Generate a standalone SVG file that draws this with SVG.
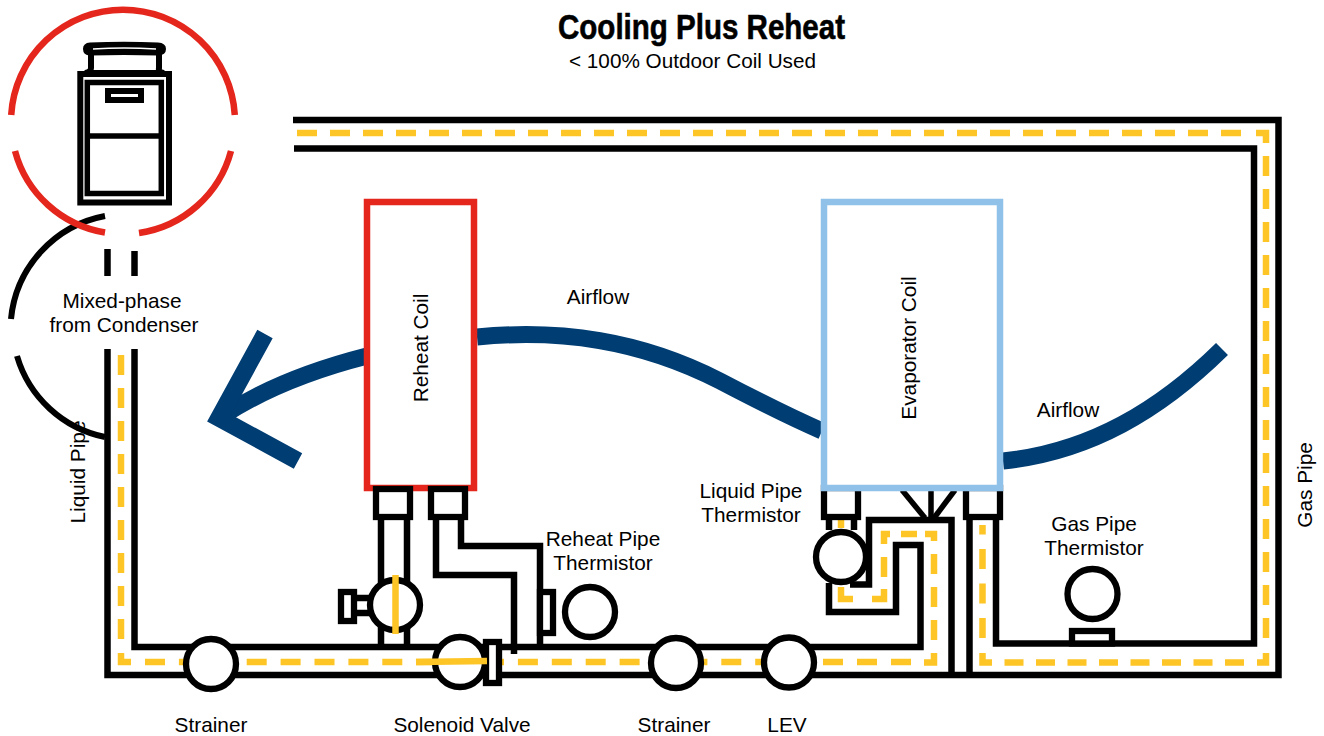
<svg xmlns="http://www.w3.org/2000/svg" width="1324" height="736" viewBox="0 0 1324 736">
<style>
text{font-family:"Liberation Sans",Arial,sans-serif;font-size:20.8px;fill:#000;text-anchor:middle}
.p{fill:none;stroke:#000;stroke-width:6.5;stroke-linejoin:miter;stroke-linecap:butt}
.n{fill:#fff;stroke:#000;stroke-width:6.3}
.y{fill:none;stroke:#fdc526;stroke-width:6.5}
.d{stroke-dasharray:20 13}
.a{fill:none;stroke:#003d73;stroke-width:17}
</style>
<rect width="1324" height="736" fill="#fff"/>
<g id="airflow">
<path class="a" d="M224 415C270 385 320 368 367 356"/>
<path class="a" style="stroke-width:17.500;stroke-miterlimit:10" d="M265 334L219 418L298 461"/>
<path class="a" d="M477 337C560 329 640 340 720 381C760 402 790 417 822 431"/>
<path class="a" d="M1003 461C1090 452 1160 410 1222 349"/>
</g>
<g id="connectors">
<path class="y d" d="M297 133H1254"/>
<path class="y" d="M1256 133H1266V143"/>
<path class="y d" d="M1266 156V639"/>
<path class="y" d="M1257 662.5H1266V653"/>
<path class="y" style="stroke-dasharray:19 12.5" d="M1244 662.5H1004"/>
<path class="y" d="M992 662.5H982.5V653"/>
<path class="y" style="stroke-dasharray:20 14.5" d="M982.5 638V525"/>
<path class="y" style="stroke-dasharray:20 13" d="M121 355V639"/>
<path class="y" d="M121 653V662H131"/>
<path class="y" style="stroke-dasharray:20 13.9" d="M145 662H810"/>
<path class="y" style="stroke-dasharray:20 14" d="M823 662H911"/>
<path class="y" d="M924 662.5H934V653"/>
<path class="y d" d="M934 640V534H925"/>
<path class="y" d="M917 534H901"/>
<path class="y" d="M890 534H884V544"/>
<path class="y" d="M884 557V577"/>
<path class="y" d="M884 589V599H872"/>
<path class="y" d="M853 599H841V587"/>
<path class="y" d="M841 520V528"/>
<path class="p" d="M107.5 249V276"/>
<path class="p" d="M134.5 251V276"/>
<path class="p" d="M107.5 349V675H1278.5V120H293"/>
<path class="p" d="M134.5 349V647H920.5V545H896V612H829V583"/>
<path class="p" d="M294 148.5H1254V643.5H996V517"/>
<path class="p" d="M969.5 517V675"/>
<path class="p" d="M951.5 675V520H869V584.5H850"/>
<path class="p" d="M829 517V530"/>
<path class="p" d="M854 517V530"/>
<path class="p" d="M381 517V647"/>
<path class="p" d="M407 517V647"/>
<path class="p" d="M357 598H372"/>
<path class="p" d="M357 613H372"/>
<path class="p" d="M436 517V575H514V654"/>
<path class="p" d="M461 517V546H540V647"/>
<path class="p" style="stroke-width:5.500" d="M902 490L925 518"/>
<path class="p" style="stroke-width:5.500" d="M955 490L934 518"/>
<path class="p" style="stroke-width:5.500" d="M931 490V518"/>
<path class="p" style="stroke-width:6" d="M105 216A116 116 0 0 0 11 319"/>
<path class="p" style="stroke-width:6" d="M17 356A116 116 0 0 0 105 437"/>
</g>
<g id="condenser-unit">
<rect x="80.300" y="74" width="88.700" height="128.500" fill="#fff" stroke="#000" stroke-width="6"/>
<rect x="87.300" y="82.500" width="74" height="111" fill="none" stroke="#000" stroke-width="5.500"/>
<path d="M88 136H161" stroke="#000" stroke-width="5.500"/>
<rect x="108" y="91" width="33" height="9" fill="#fff" stroke="#000" stroke-width="6"/>
<path d="M91 54V68Q91 72 85 73H164Q158 72 159 68V54" fill="#fff" stroke="#000" stroke-width="6"/>
<path d="M90 42.500Q124 41 158 42.500Q166 43 166 49Q166 55 158 55.500Q124 54.500 90 55.500Q83 55 83 49Q83 43 90 42.500Z" fill="#000"/>
<path d="M93 49Q124 47 156 49" fill="none" stroke="#fff" stroke-width="1.300"/>
</g>
<g id="condenser-ring" fill="none" stroke="#e4261c" stroke-width="6.5">
<path d="M11.200 115A112 112 0 0 1 234.800 115"/>
<path d="M231 151A112 112 0 0 1 139 233"/>
<path d="M105 232.500A112 112 0 0 1 15 151"/>
</g>
<g id="fitting-evap-1"><rect x="824" y="488" width="34" height="29" class="n"/></g>
<g id="fitting-evap-2"><rect x="966" y="488" width="34" height="29" class="n"/></g>
<g id="reheat-coil">
<rect x="367" y="202" width="107" height="286" fill="#fff" stroke="#e4261c" stroke-width="6.500"/>
<text transform="translate(428 348) rotate(-90)">Reheat Coil</text>
</g>
<g id="evaporator-coil">
<rect x="824" y="202" width="176" height="286" fill="#fff" stroke="#8fc1e9" stroke-width="6.500"/>
<text transform="translate(916 348) rotate(-90)">Evaporator Coil</text>
</g>
<g id="fitting-reheat-1"><rect x="376" y="489" width="34" height="28" class="n"/></g>
<g id="fitting-reheat-2"><rect x="431" y="489" width="34" height="28" class="n"/></g>
<g id="check-valve">
<rect x="341" y="592" width="13" height="29" class="n"/>
<circle cx="395" cy="605" r="25" class="n"/>
<path d="M395.500 575V634" class="y"/>
</g>
<g id="solenoid-valve">
<circle cx="460" cy="662" r="25" class="n"/>
<rect x="486" y="642" width="13" height="41" class="n"/>
<path d="M416 662L487 661" class="y"/>
<text x="462" y="732">Solenoid Valve</text>
</g>
<g id="reheat-thermistor">
<rect x="540" y="592" width="13" height="41" class="n"/>
<circle cx="590" cy="612" r="25" class="n"/>
<text x="603" y="546">Reheat Pipe</text>
<text x="603" y="570">Thermistor</text>
</g>
<g id="strainer-1">
<circle cx="211" cy="664" r="25" class="n"/>
<text x="211" y="732">Strainer</text>
</g>
<g id="strainer-2">
<circle cx="676" cy="663" r="25" class="n"/>
<text x="674" y="732">Strainer</text>
</g>
<g id="lev">
<circle cx="789" cy="662.500" r="25" class="n"/>
<text x="787" y="732">LEV</text>
</g>
<g id="liquid-thermistor">
<circle cx="841" cy="557" r="25" class="n"/>
<text x="751" y="498">Liquid Pipe</text>
<text x="751" y="522">Thermistor</text>
</g>
<g id="gas-thermistor">
<rect x="1072" y="631" width="40" height="12.500" class="n"/>
<circle cx="1092.500" cy="594" r="25" class="n"/>
<text x="1094" y="531">Gas Pipe</text>
<text x="1094" y="555">Thermistor</text>
</g>
<g id="labels">
<text x="701.500" y="39" style="font-weight:bold;font-size:35px;stroke:#000;stroke-width:.6" textLength="287" lengthAdjust="spacingAndGlyphs">Cooling Plus Reheat</text>
<text x="692.500" y="68" style="font-size:20.5px" textLength="247" lengthAdjust="spacingAndGlyphs">&lt; 100% Outdoor Coil Used</text>
<text x="122" y="308">Mixed-phase</text>
<text x="124" y="332">from Condenser</text>
<text x="598" y="304">Airflow</text>
<text x="1068" y="417">Airflow</text>
<text transform="translate(85 472) rotate(-90)">Liquid Pipe</text>
<text transform="translate(1312 485) rotate(-90)">Gas Pipe</text>
</g>
</svg>
